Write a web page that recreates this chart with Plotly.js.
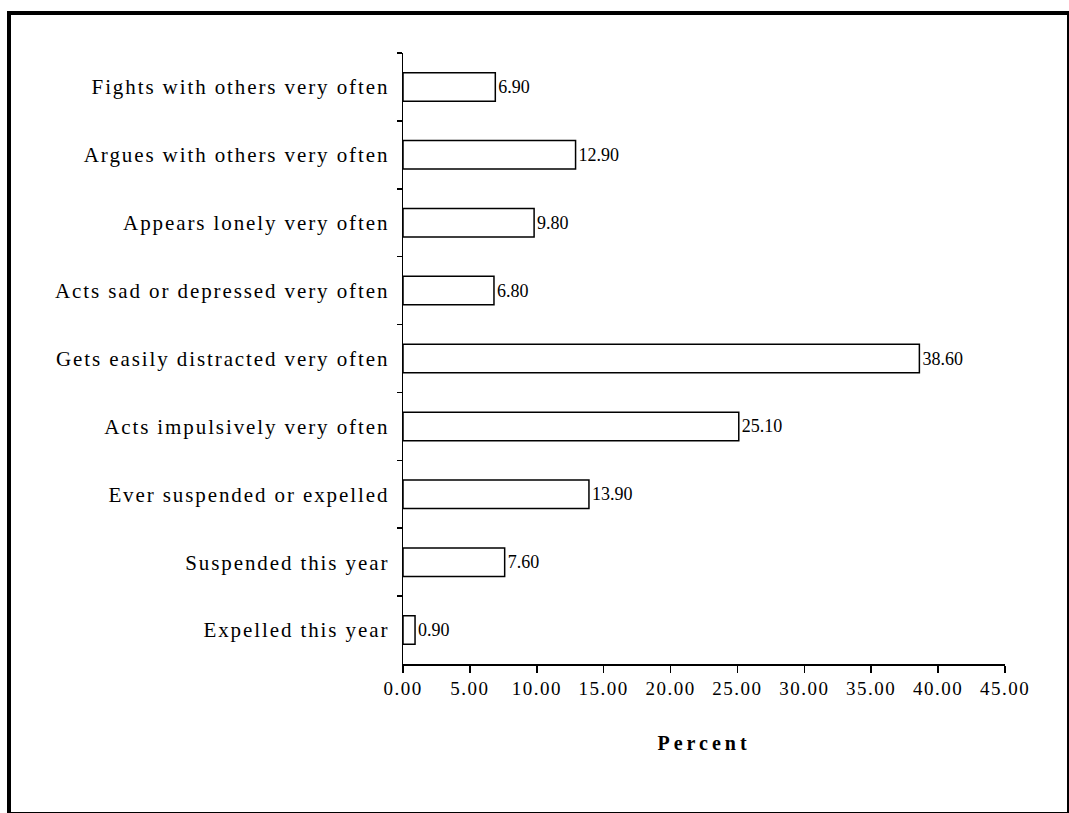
<!DOCTYPE html>
<html>
<head>
<meta charset="utf-8">
<script src="https://cdn.plot.ly/plotly-3.0.1.min.js"></script>
<style>
  html, body { margin: 0; padding: 0; background: #fff; }
  #wrap { position: relative; width: 1069px; height: 813px; overflow: hidden; }
  #chart { position: absolute; left: 0; top: 0; width: 1069px; height: 813px; }
  #frame { position: absolute; left: 7px; top: 11px; width: 1056px; height: 797px;
           border-left: 4px solid #000; border-top: 4px solid #000;
           border-right: 2px solid #000; border-bottom: 2px solid #000; pointer-events: none; }
  #chart .ytick text { letter-spacing: 1.9px; }
  #chart .xtick text { letter-spacing: 1.5px; }
  #chart text.xtitle { letter-spacing: 4px; }
</style>
</head>
<body>
<div id="wrap">
  <div id="chart"></div>
  <div id="frame"></div>
</div>
<script>
const categories = [
  "Fights with others very often",
  "Argues with others very often",
  "Appears lonely very often",
  "Acts sad or depressed very often",
  "Gets easily distracted very often",
  "Acts impulsively very often",
  "Ever suspended or expelled",
  "Suspended this year",
  "Expelled this year"
];
const percents = [6.90, 12.90, 9.80, 6.80, 38.60, 25.10, 13.90, 7.60, 0.90];
const xTickValues = [0, 5, 10, 15, 20, 25, 30, 35, 40, 45];
const xTitle = "Percent";

const fontFamily = "'Liberation Serif', 'DejaVu Serif', serif";

const trace = {
  type: 'bar',
  orientation: 'h',
  y: categories,
  x: percents,
  width: 0.42,
  marker: { color: '#ffffff', line: { color: '#000000', width: 1.5 } },
  text: percents.map(v => v.toFixed(2)),
  textposition: 'outside',
  cliponaxis: false,
  textfont: { family: fontFamily, size: 18, color: '#000' },
  hoverinfo: 'none'
};

const layout = {
  width: 1069,
  height: 813,
  margin: { l: 403, r: 64, t: 53, b: 149 },
  paper_bgcolor: '#ffffff',
  plot_bgcolor: '#ffffff',
  showlegend: false,
  font: { family: fontFamily, color: '#000' },
  xaxis: {
    range: [0, 45],
    tickvals: xTickValues,
    ticktext: xTickValues.map(v => v.toFixed(2)),
    ticks: 'outside',
    ticklen: 7,
    tickwidth: 1.5,
    tickcolor: '#000',
    showline: true,
    linecolor: '#000',
    linewidth: 1.5,
    showgrid: false,
    zeroline: false,
    tickfont: { family: fontFamily, size: 19, color: '#000' },
    title: { text: '<b>' + xTitle + '</b>', font: { family: fontFamily, size: 20, color: '#000' }, standoff: 37 }
  },
  yaxis: {
    autorange: 'reversed',
    ticks: 'outside',
    tickson: 'boundaries',
    ticklen: 5,
    tickwidth: 1.5,
    tickcolor: '#000',
    showline: true,
    linecolor: '#000',
    linewidth: 1.5,
    showgrid: false,
    zeroline: false,
    ticklabelstandoff: 8,
    tickfont: { family: fontFamily, size: 21, color: '#000' }
  },
  bargap: 0.58
};

Plotly.newPlot('chart', [trace], layout, { displayModeBar: false, staticPlot: true });
</script>
</body>
</html>
